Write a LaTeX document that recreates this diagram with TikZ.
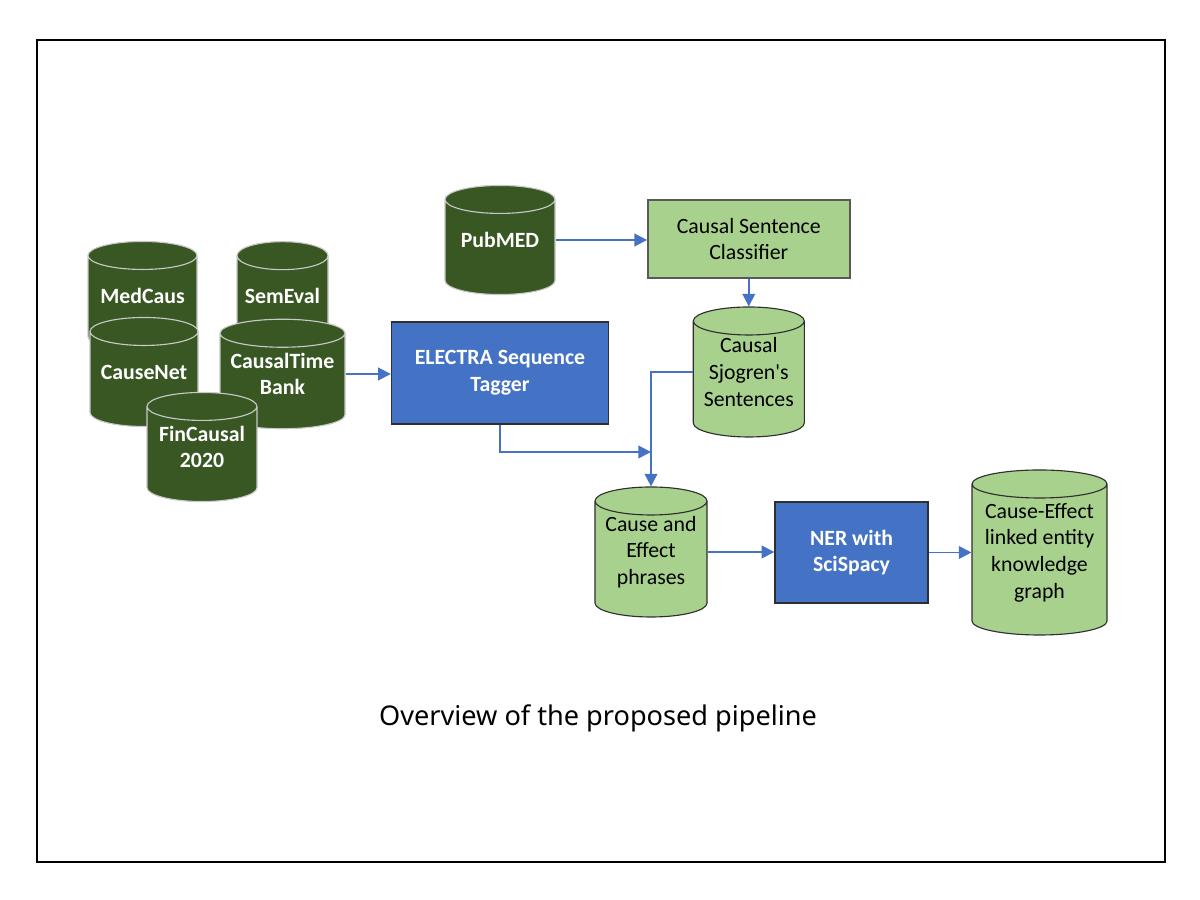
\documentclass[tikz,border=0pt]{standalone}
\usepackage{fontspec}
\newfontfamily\diafont{Carlito}
\newfontfamily\capfont{Noto Sans}
\usetikzlibrary{arrows.meta,positioning,shapes.geometric}
\definecolor{pipeDark}{HTML}{385723}
\definecolor{pipeLight}{HTML}{A9D18E}
\definecolor{pipeBlue}{HTML}{4472C4}
\definecolor{pipeEdge}{HTML}{2F2F2F}
\definecolor{pipeRim}{HTML}{C8C8C8}
\tikzset{
  db/.style={cylinder,shape border rotate=90,aspect=0.35,line width=0.8pt,inner sep=1cm,anchor=shape center},
  darkdb/.style={db,draw=pipeRim,fill=pipeDark},
  lightdb/.style={db,draw=pipeEdge,fill=pipeLight},
  darktext/.style={anchor=center,align=center,text=white,font=\diafont\fontsize{15.5}{19}\selectfont\bfseries},
  lighttext/.style={anchor=center,align=center,text=black},
  bluebox/.style={rectangle,draw=pipeEdge,line width=1pt,fill=pipeBlue,text=white,align=center,font=\diafont\fontsize{15.5}{19}\selectfont\bfseries},
  greenbox/.style={rectangle,draw=pipeEdge!80,line width=1pt,fill=pipeLight,align=center},
  flow/.style={-{Triangle[length=9pt,width=9pt]},line width=1.3pt,draw=pipeBlue}
}
\begin{document}
\begin{tikzpicture}[font=\diafont\fontsize{15.5}{19}\selectfont]
  \useasboundingbox[fill=white] (0,0) rectangle (30,22.5);
  \draw[line width=1.5pt] (0.925,0.95) rectangle (29.125,21.5);   % frame
  % training corpora
  \node[darkdb,minimum width=2.725cm,minimum height=2.45cm,label={[darktext]shape center:MedCaus}] (medcaus) at (3.5625,15.1) {};
  \node[darkdb,minimum width=2.275cm,minimum height=2.45cm,label={[darktext]shape center:SemEval}] (semeval) at (7.0625,15.1) {};
  \node[darkdb,minimum width=2.7cm,minimum height=2.5cm,label={[darktext]shape center:CauseNet}] (causenet) at (3.6,13.2) {};
  \node[darkdb,minimum width=3.125cm,minimum height=2.45cm,label={[darktext]shape center:CausalTime\\Bank}] (ctb) at (7.0625,13.15) {};
  \node[darkdb,minimum width=2.75cm,minimum height=2.5cm,label={[darktext]shape center:FinCausal\\2020}] (fincausal) at (5.05,11.325) {};
  % main pipeline
  \node[darkdb,minimum width=2.75cm,minimum height=2.5cm,label={[darktext]shape center:PubMED}] (pubmed) at (12.5,16.5) {};
  \node[greenbox,minimum width=5.05cm,minimum height=1.95cm] (classifier) at (18.72,16.525) {Causal Sentence\\Classifier};
  \node[lightdb,minimum width=2.775cm,minimum height=3.25cm,label={[lighttext]shape center:Causal\\Sjogren's\\Sentences}] (sjogren) at (18.72,13.2) {};
  \node[bluebox,minimum width=5.425cm,minimum height=2.55cm] (electra) at (12.5,13.175) {ELECTRA Sequence\\Tagger};
  \node[lightdb,minimum width=2.8cm,minimum height=3.25cm,label={[lighttext]shape center:Cause and\\Effect\\phrases}] (phrases) at (16.275,8.7) {};
  \node[bluebox,minimum width=3.825cm,minimum height=2.525cm] (ner) at (21.2875,8.6875) {NER with\\SciSpacy};
  \node[lightdb,minimum width=3.375cm,minimum height=4.125cm,label={[lighttext]shape center:Cause-Effect\\linked entity\\knowledge\\graph}] (graph) at (25.9875,8.6875) {};
  \coordinate (join) at (16.275,11.2);
  % connectors
  \draw[flow] (ctb.shape center -| ctb.east) -- (ctb.shape center -| electra.west);
  \draw[flow] (pubmed.shape center -| pubmed.east) -- (pubmed.shape center -| classifier.west);
  \draw[flow] (classifier.south) -- (classifier.south |- sjogren.north);
  \draw[flow] (electra.south) |- (join);
  \draw[flow] (sjogren.shape center -| sjogren.west) -| (phrases.north);
  \draw[flow] (phrases.shape center -| phrases.east) -- (phrases.shape center -| ner.west);
  \draw[flow] (ner.east) -- (ner.east -| graph.west);
  % caption
  \node[font=\capfont\fontsize{19.3}{23}\selectfont] (caption) at (14.95,4.55) {Overview of the proposed pipeline};
\end{tikzpicture}
\end{document}
